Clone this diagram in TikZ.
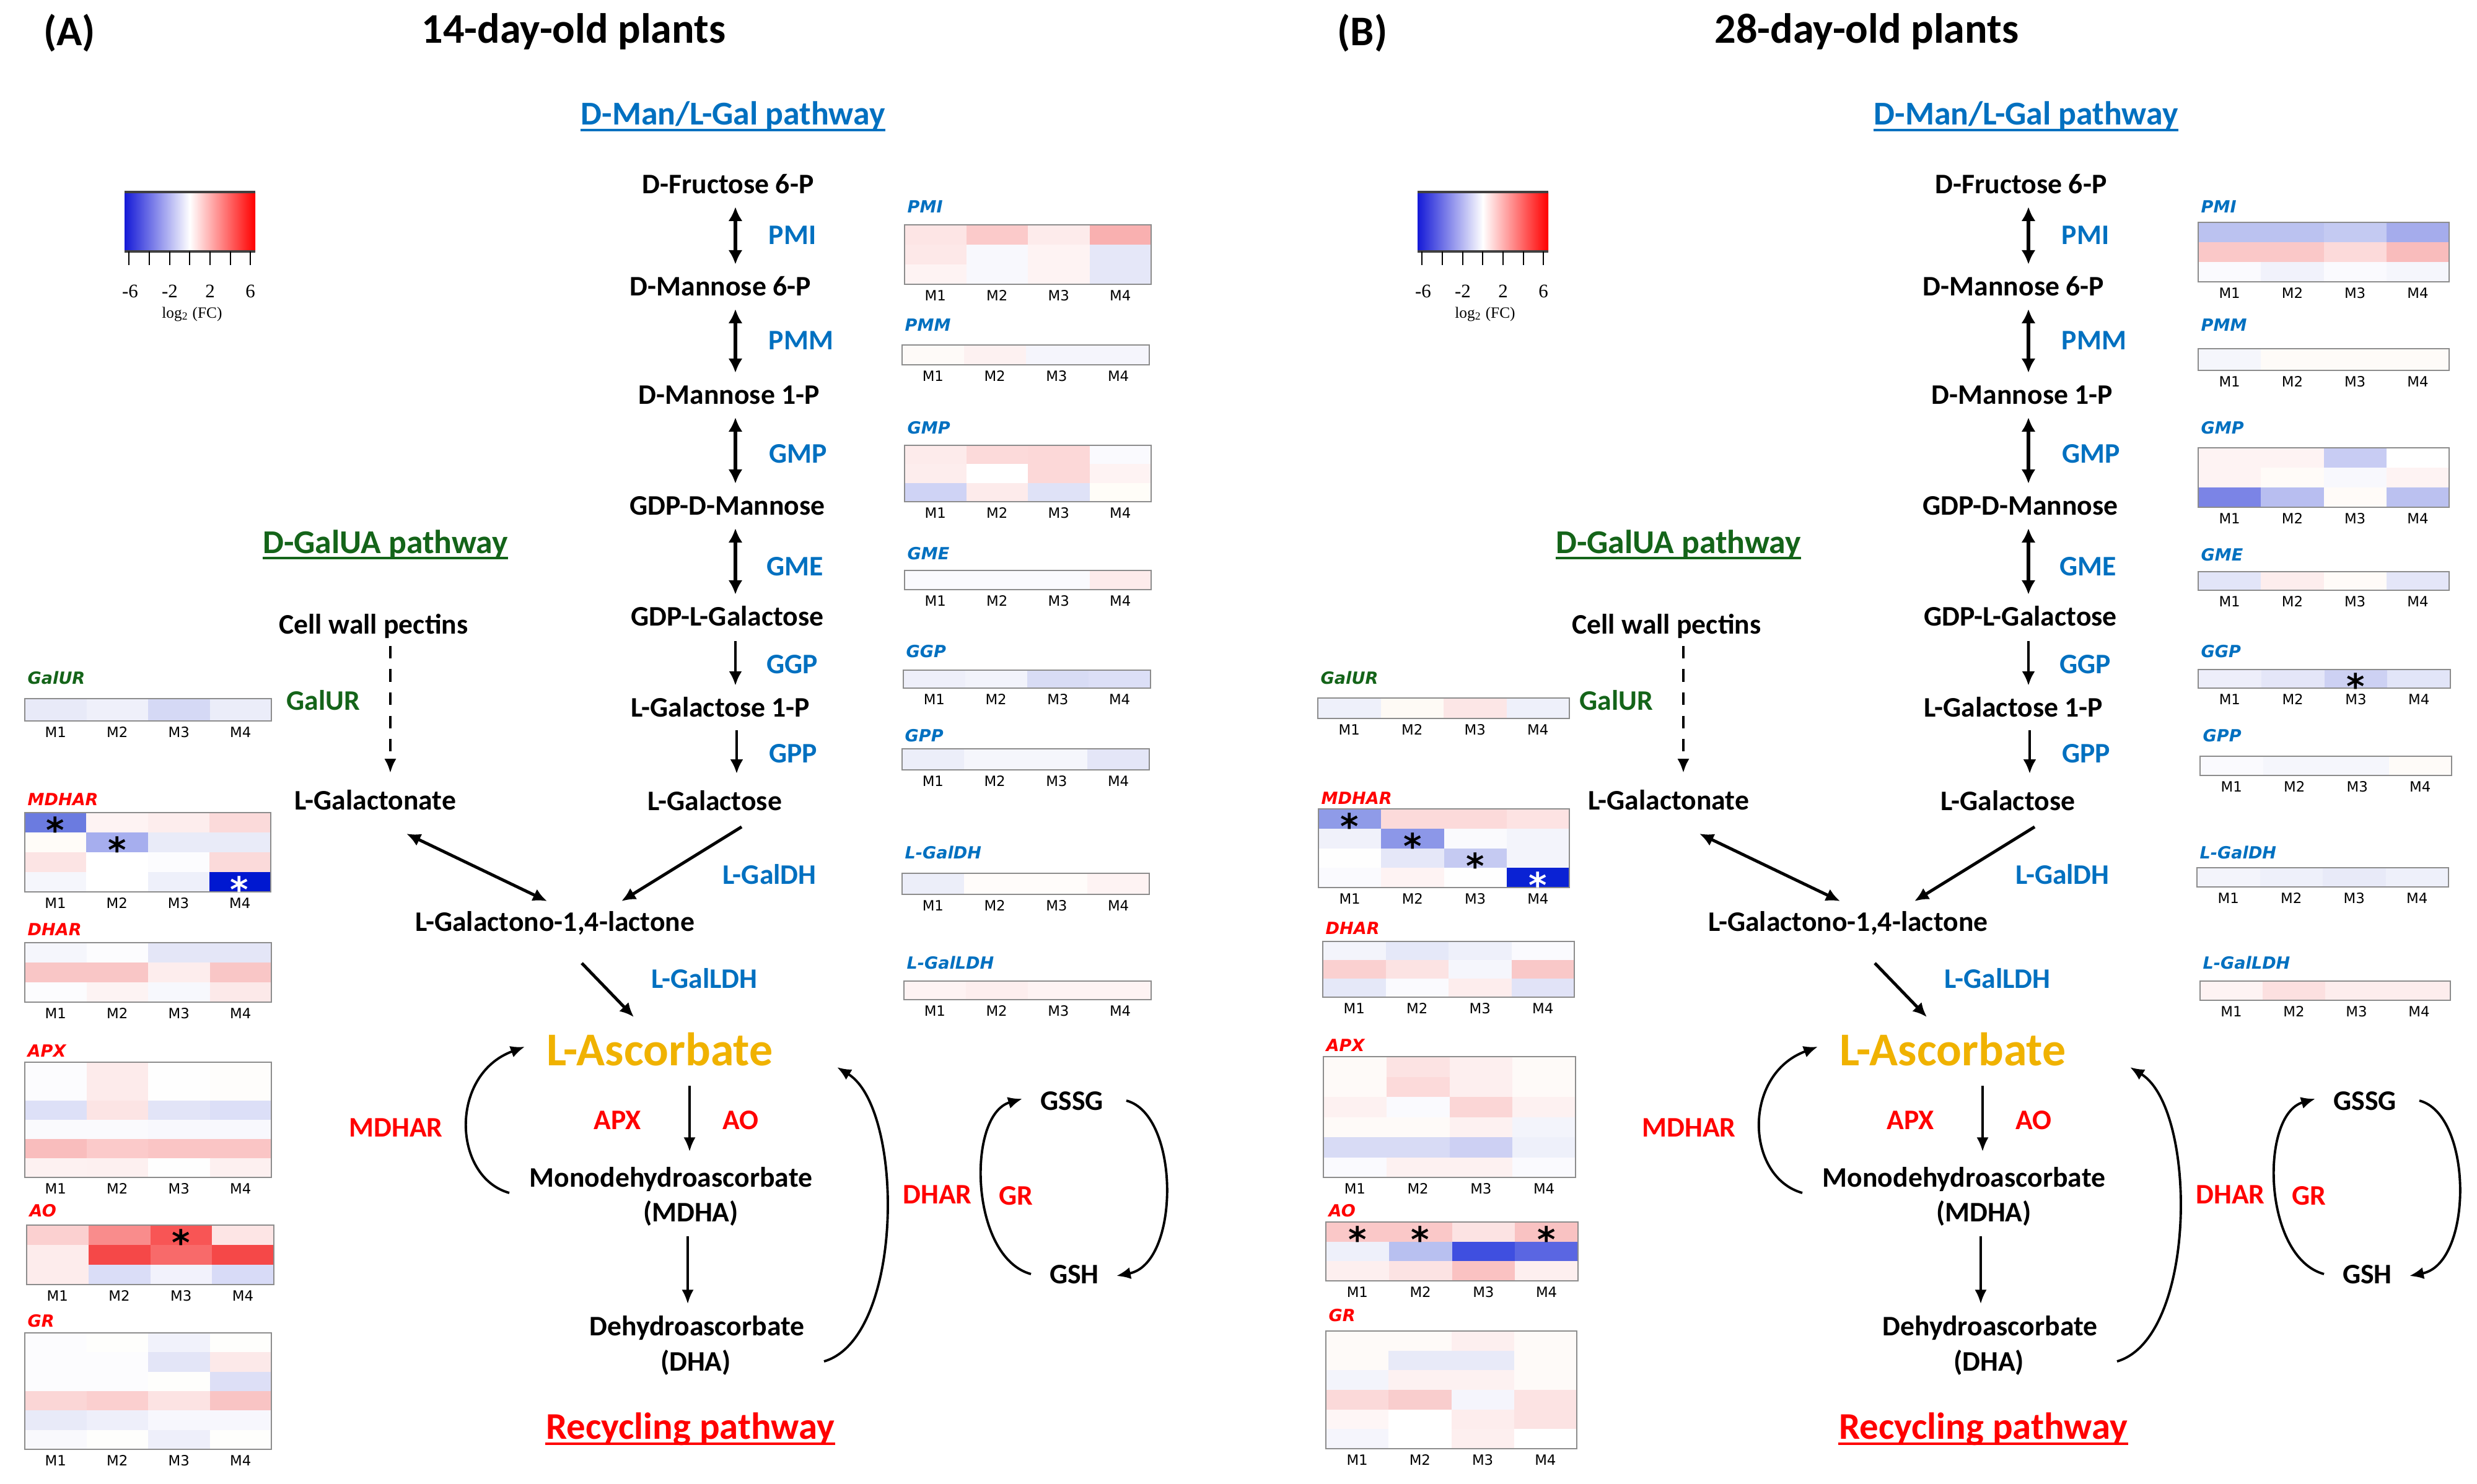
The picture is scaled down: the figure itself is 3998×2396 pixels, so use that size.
\documentclass[tikz,border=0pt]{standalone}
\usepackage{fontspec}
\setmainfont{Carlito}
\newfontfamily\dvsans{DejaVu Sans}
\newfontfamily\lserif{Liberation Serif}
\usetikzlibrary{arrows.meta,calc}
\definecolor{blueT}{RGB}{0,112,192}
\definecolor{greenT}{RGB}{20,100,25}
\definecolor{redT}{RGB}{255,0,0}
\definecolor{goldT}{RGB}{240,178,0}
\definecolor{hmborder}{RGB}{140,140,140}
\definecolor{cbBlue}{RGB}{20,25,215}
\definecolor{cbRed}{RGB}{255,0,0}
\tikzset{
 met/.style={font=\bfseries\fontsize{13}{16}\selectfont, inner sep=0pt, text height=8.6pt, text depth=0pt},
 enzB/.style={met, text=blueT},
 enzR/.style={met, text=redT},
 enzG/.style={met, text=greenT},
 hdg/.style={font=\bfseries\fontsize{15.3}{18}\selectfont, inner sep=0pt, text height=10pt, text depth=0pt},
 hdgR/.style={font=\bfseries\fontsize{17.3}{20}\selectfont, inner sep=0pt, text height=11.4pt, text depth=0pt, text=redT},
 ttl/.style={font=\bfseries\fontsize{19.4}{22}\selectfont, inner sep=0pt, text height=12.7pt, text depth=0pt},
 ascs/.style={font=\bfseries\fontsize{21.6}{24}\selectfont, inner sep=0pt, text height=14.2pt, text depth=0pt, text=goldT},
 ulin/.style={line width=1.2pt},
 dbl/.style={line width=1.7pt, {Latex[length=6.5pt,width=6.5pt]}-{Latex[length=6.5pt,width=6.5pt]}},
 sgl/.style={line width=1.2pt, -{Latex[length=6.5pt,width=6pt]}},
 diag/.style={line width=1.4pt, -{Latex[length=6.5pt,width=6pt]}},
 diagd/.style={line width=1.4pt, {Latex[length=6.5pt,width=6pt]}-{Latex[length=6.5pt,width=6pt]}},
 thin/.style={line width=1.0pt, -{Latex[length=6.5pt,width=5.5pt]}},
 crv/.style={line width=1.1pt, -{Latex[length=6.5pt,width=5.5pt]}},
 dsh/.style={line width=1.4pt, dash pattern=on 5.7pt off 5pt, -{Latex[length=6.5pt,width=5.5pt]}},
 cbl/.style={font=\lserif\fontsize{8.8}{10}\selectfont, inner sep=0pt, text height=6pt, text depth=0pt},
 cbl2/.style={font=\lserif\fontsize{7.2}{9}\selectfont, inner sep=0pt},
 hml/.style={font=\dvsans\bfseries\itshape\fontsize{7.7}{9}\selectfont, inner sep=0pt, anchor=west, text height=5.6pt, text depth=0pt},
 mlab/.style={font=\dvsans\fontsize{6.5}{8}\selectfont, inner sep=0pt, text height=4.7pt, text depth=0pt},
 hmframe/.style={draw=hmborder, line width=0.8pt},
 astk/.style={font=\dvsans\bfseries\fontsize{16}{16}\selectfont, inner sep=0pt},
}
\newcommand\astglyph{\raisebox{-0.40em}[0.36em][0pt]{*}}
\newcommand\hmap[9]{%
 \pgfmathsetmacro\hmcw{(#5-#3)/4}%
 \pgfmathsetmacro\hmch{(#6-#4)/#7}%
 \foreach \hc [count=\hi from 0] in {#9}{%
   \pgfmathtruncatemacro\hrow{int(\hi/4)}%
   \pgfmathtruncatemacro\hcol{mod(\hi,4)}%
   \edef\hmtmp{\noexpand\definecolor{hmc}{HTML}{\hc}}\hmtmp
   \fill[hmc] ({#3+\hcol*\hmcw},{#4+\hrow*\hmch}) rectangle ({#3+(\hcol+1)*\hmcw},{#4+(\hrow+1)*\hmch});
 }%
 \draw[hmframe] (#3,#4) rectangle (#5,#6);
 \node[hml] (#1-lab) at ({#3+4},#8) {#2};
 \foreach \m in {1,2,3,4}{\node[mlab] (#1-m\m) at ({#3+(\m-0.5)*\hmcw},{#6+18}) {M\m};}
}
\newcommand\pathwaybody{%
 % colour bar
 \shade[left color=cbBlue,right color=cbRed,middle color=white] (201,310) rectangle (412,406);
 \draw[line width=0.9pt, black!75] (201,310) -- (412,310);
 \draw[line width=0.9pt, black!75] (201,406) -- (412,406);
 \foreach \tx in {208,241,274,306,339,372,404} \draw[line width=0.6pt] (\tx,406) -- (\tx,428);
 \node[cbl] (cb1) at (210,470) {-6};
 \node[cbl] (cb2) at (274,470) {-2};
 \node[cbl] (cb3) at (339,470) {2};
 \node[cbl] (cb4) at (404,470) {6};
 \node[cbl2] (cbt) at (310,507) {log\textsubscript{2} (FC)};
 % D-Man/L-Gal pathway
 \coordinate (ax) at (1187,0);
 \coordinate (ax2) at (1189,0);
 \node[hdg, text=blueT] (dman) at (1183,184) {D-Man/L-Gal pathway};
 \draw[ulin, blueT] ([yshift=-2.4pt]dman.base west) -- ([yshift=-2.4pt]dman.base east);
 \node[met] (fru) at (1175,297) {D-Fructose 6-P};
 \node[enzB] (pmi) at (1279,379) {PMI};
 \node[met] (man6) at (1163,462) {D-Mannose 6-P};
 \node[enzB] (pmm) at (1293,549) {PMM};
 \node[met] (man1) at (1177,637) {D-Mannose 1-P};
 \node[enzB] (gmp) at (1288,732) {GMP};
 \node[met] (gdpman) at (1174,816) {GDP-D-Mannose};
 \node[enzB] (gme) at (1283,914) {GME};
 \node[met] (gdpgal) at (1174,995) {GDP-L-Galactose};
 \node[enzB] (ggp) at (1279,1072) {GGP};
 \node[met] (gal1p) at (1163,1142) {L-Galactose 1-P};
 \node[enzB] (gpp) at (1280,1216) {GPP};
 \node[met] (gal) at (1154,1293) {L-Galactose};
 \node[enzB] (galdh) at (1242,1412) {L-GalDH};
 \node[met] (lac) at (896,1488) {L-Galactono-1,4-lactone};
 \node[enzB] (galldh) at (1137,1580) {L-GalLDH};
 \node[ascs] (asc) at (1065,1696) {L-Ascorbate};
 \draw[dbl, shorten <=6pt, shorten >=5.5pt] (fru.south -| ax) -- (man6.north -| ax);
 \draw[dbl, shorten <=6pt, shorten >=5.5pt] (man6.south -| ax) -- (man1.north -| ax);
 \draw[dbl, shorten <=6pt, shorten >=5.5pt] (man1.south -| ax) -- (gdpman.north -| ax);
 \draw[dbl, shorten <=6pt, shorten >=5.5pt] (gdpman.south -| ax) -- (gdpgal.north -| ax);
 \draw[sgl, shorten <=7pt, shorten >=5.5pt] (gdpgal.south -| ax) -- (gal1p.north -| ax);
 \draw[sgl, shorten <=6pt, shorten >=8pt] (gal1p.south -| ax2) -- (gal.north -| ax2);
 \draw[diag] ($(gal.center)+(43,42)$) -- ($(lac.center)+(107,-33)$);
 \draw[diag] ($(lac.center)+(43,67)$) -- ($(asc.center)+(-42,-54)$);
 % D-GalUA pathway
 \coordinate (dx) at (630,0);
 \node[hdg, text=greenT] (galua) at (622,876) {D-GalUA pathway};
 \draw[ulin, greenT] ([yshift=-2.2pt]galua.base west) -- ([yshift=-2.2pt]galua.base east);
 \node[met] (pectin) at (603,1008) {Cell wall pectins};
 \node[enzG] (galur) at (522,1131) {GalUR};
 \node[met] (galn) at (606,1292) {L-Galactonate};
 \draw[dsh, shorten <=5.4pt, shorten >=8pt] (pectin.south -| dx) -- (galn.north -| dx);
 \draw[diagd] ($(galn.center)+(50,54)$) -- ($(lac.center)+(-13,-33)$);
 % Recycling pathway
 \coordinate (rx) at (1113,0);
 \coordinate (rx2) at (1110,0);
 \node[enzR] (apx) at (997,1808) {APX};
 \node[enzR] (ao) at (1195,1808) {AO};
 \node[met] (mdha) at (1083,1901) {Monodehydroascorbate};
 \node[met] (mdhab) at (1115,1957) {(MDHA)};
 \node[met] (dha) at (1125,2141) {Dehydroascorbate};
 \node[met] (dhab) at (1123,2198) {(DHA)};
 \node[enzR] (mdhar) at (639,1820) {MDHAR};
 \node[enzR] (dhar) at (1513,1928) {DHAR};
 \node[enzR] (gr) at (1640,1930) {GR};
 \node[met] (gssg) at (1730,1777) {GSSG};
 \node[met] (gsh) at (1734,2057) {GSH};
 \node[hdgR] (recyc) at (1114,2303) {Recycling pathway};
 \draw[ulin, redT] ([yshift=-2.2pt]recyc.base west) -- ([yshift=-2.2pt]recyc.base east);
 \draw[thin, shorten <=9pt, shorten >=7.4pt] (asc.south -| rx) -- (mdha.north -| rx);
 \draw[thin, shorten <=6.5pt, shorten >=5.7pt] (mdhab.south -| rx2) -- (dha.north -| rx2);
 \coordinate (mdharS) at (822,1926);
 \coordinate (mdharE) at (847,1690);
 \draw[crv] (mdharS) .. controls (730,1900) and (725,1735) .. (mdharE);
 \coordinate (dharS) at (1330,2198);
 \coordinate (dharE) at (1351,1723);
 \draw[crv] (dharS) .. controls (1460,2160) and (1460,1790) .. (dharE);
 \coordinate (grS) at (1664,2057);
 \coordinate (grE) at (1650,1774);
 \draw[crv] (grS) .. controls (1565,2030) and (1560,1800) .. (grE);
 \coordinate (gsS) at (1818,1777);
 \coordinate (gsE) at (1802,2060);
 \draw[crv] (gsS) .. controls (1905,1800) and (1905,2040) .. (gsE);
}
\begin{document}
\begin{tikzpicture}[x=0.01cm, y=-0.01cm]
\useasboundingbox (0,0) rectangle (3998,2396);
\fill[white] (0,0) rectangle (3998,2396);
% ---------- Panel A ----------
\node[ttl] (labA) at (112,51) {(A)};
\node[ttl] (titA) at (926,47) {14-day-old plants};
\begin{scope}[name prefix=A-]
\pathwaybody
\end{scope}
\hmap{hA-galur}{\textcolor{greenT}{GalUR}}{40}{1128}{438}{1164}{1}{1095}{E8EAF8,EFF0FA,D5D9F5,EBEDF9}
\hmap{hA-mdhar}{\textcolor{redT}{MDHAR}}{40}{1312}{437}{1440}{4}{1291}{6B7BE0,FEF3F3,FDEDED,FBDADA,
FFFCF8,A6AEEE,E9EBF8,E9EBF8,
FCE4E4,FFFFFF,FCFCFE,FBDADA,
F5F6FC,FFFFFF,EEF0FA,0018D0}
\hmap{hA-dhar}{\textcolor{redT}{DHAR}}{40}{1522}{438}{1618}{3}{1501}{F5F6FC,FCFCFE,E4E6F7,E4E6F7,
F9C6C6,F9C6C6,FDEDED,F9C6C6,
FCFCFE,FDF3F3,F7F8FD,FCE9E9}
\hmap{hA-apx}{\textcolor{redT}{APX}}{40}{1715}{438}{1901}{6}{1697}{FCFCFE,FDEBEB,FEFEFE,FEFDFB,
FCFCFE,FDEBEB,FEFEFE,FEFDFB,
DDE0F7,FCE4E4,E2E4F7,DCDFF7,
FAFAFD,FAFAFD,F8F8FD,F8F8FD,
F9BDBD,FBCACA,FAC5C5,FAC5C5,
FDF1F1,FDF0F0,FEFEFE,FDF0F0}
\hmap{hA-ao}{\textcolor{redT}{AO}}{43}{1978}{442}{2074}{3}{1955}{FBD0D0,F98C8C,F85555,FDE5E5,
FDECEC,F54848,F86A6A,F54848,
FDECEC,DADDF7,F2F2FC,D8DBF7}
\hmap{hA-gr}{\textcolor{redT}{GR}}{40}{2152}{438}{2340}{6}{2133}{FCFCFE,FEFEFC,F1F2FB,FEFEFC,
FCFCFE,FCFCFE,E3E5F7,FCE9E9,
FCFCFE,FCFCFE,FEFEFC,DDDFF6,
FBD6D6,FBCFCF,FCE3E3,F9C4C4,
E8EAF8,EEEFFA,F7F7FD,F7F7FD,
F9F9FD,FEFEFC,EEEFFA,FEFEFC}
\hmap{hA-pmi}{\textcolor{blueT}{PMI}}{1460}{363}{1858}{459}{3}{334}{FDE5E5,FBCACA,FDEBEB,F9B0B0,
FDE8E8,F8F8FD,FEF3F3,E5E7F8,
FEF3F3,F8F8FD,FEF3F3,E5E7F8}
\hmap{hA-pmm}{\textcolor{blueT}{PMM}}{1456}{557}{1855}{589}{1}{525}{FEFAF8,FDF1F1,F5F5FC,F5F5FC}
\hmap{hA-gmp}{\textcolor{blueT}{GMP}}{1460}{719}{1858}{810}{3}{691}{FDEBEB,FCDADA,FCD8D8,FAFAFE,
FDEDED,FFFFFF,FCD8D8,FEF3F3,
CFD3F5,FDEBEB,DFE2F7,FFFDF8}
\hmap{hA-gme}{\textcolor{blueT}{GME}}{1460}{921}{1858}{952}{1}{894}{FAFAFE,FAFAFE,FAFAFE,FDEBEB}
\hmap{hA-ggp}{\textcolor{blueT}{GGP}}{1458}{1082}{1857}{1111}{1}{1052}{EEEFFA,F2F3FB,D8DCF5,DCDFF7}
\hmap{hA-gpp}{\textcolor{blueT}{GPP}}{1456}{1209}{1855}{1243}{1}{1188}{ECEEF9,F5F6FC,F5F6FC,E4E6F7}
\hmap{hA-galdh}{\textcolor{blueT}{L-GalDH}}{1456}{1410}{1855}{1444}{1}{1377}{ECEEF9,FFFCFA,FFFCFA,FEF3F3}
\hmap{hA-galldh}{\textcolor{blueT}{L-GalLDH}}{1459}{1584}{1858}{1614}{1}{1555}{FEF3F3,FDEEEE,FEF3F3,FEF3F3}
\node[astk] (astA1) at (89.6,1328) {\astglyph};
\node[astk] (astA2) at (188.9,1360) {\astglyph};
\node[astk, text=white] (astA3) at (386.4,1424) {\astglyph};
\node[astk] (astA4) at (292.4,1994) {\astglyph};
% ---------- Panel B ----------
\node[ttl] (labB) at (2199,51) {(B)};
\node[ttl] (titB) at (3013,47) {28-day-old plants};
\begin{scope}[shift={(2087,0)}, name prefix=B-]
\pathwaybody
\end{scope}
\hmap{hB-galur}{\textcolor{greenT}{GalUR}}{2127}{1127}{2533}{1160}{1}{1095}{EEF0FA,FEFAF5,FCE6E6,EEF0FA}
\hmap{hB-mdhar}{\textcolor{redT}{MDHAR}}{2128}{1306}{2533}{1433}{4}{1289}{8F9BE8,FCDADA,FCDADA,FDE3E3,
F0F1FA,8C97E8,FAFAFD,F3F4FB,
FEFEFE,E5E7F8,C5CAF2,F3F4FB,
FAFAFE,FEF3F3,FEFEFE,0A22D4}
\hmap{hB-dhar}{\textcolor{redT}{DHAR}}{2135}{1520}{2541}{1610}{3}{1499}{F3F4FB,E5E8F8,EEF0FA,FAFAFE,
FAD0D0,FCE3E3,F5F6FC,F9C8C8,
E5E8F8,FAFAFE,FDEDED,E1E3F7}
\hmap{hB-apx}{\textcolor{redT}{APX}}{2136}{1706}{2543}{1901}{6}{1688}{FEFAF8,FCE3E3,FDEFEF,FEFAF8,
FEFAF8,FCDADA,FDEFEF,FEFAF8,
FDF1F1,FAFAFE,FBD6D6,FDF1F1,
FEFAF8,FEFAF8,FDF1F1,F3F4FB,
D8DBF5,D8DBF5,CDD0F3,EEF0FA,
FAFAFE,FDF1F1,FDF1F1,FAFAFE}
\hmap{hB-ao}{\textcolor{redT}{AO}}{2140}{1973}{2547}{2068}{3}{1955}{FAC8C8,FAC8C8,FCE3E3,F9C2C2,
EEF0FA,B8C0F0,3F4FE0,5A66E2,
FDEFEF,FCE3E3,FAC2C2,FDEFEF}
\hmap{hB-gr}{\textcolor{redT}{GR}}{2140}{2149}{2545}{2339}{6}{2124}{FEFAF8,FEFAF8,FDEFEF,FEFAF8,
FEFAF8,E8EAF8,E8EAF8,FEFAF8,
F3F4FB,FDF1F1,FDF1F1,FEFAF8,
FBD9D9,F9CDCD,F5F5FC,FCE3E3,
FEF6F6,FFFFFF,FDEDED,FCE3E3,
F5F5FC,FFFFFF,FDEFEF,FFFFFF}
\hmap{hB-pmi}{\textcolor{blueT}{PMI}}{3548}{359}{3953}{455}{3}{334}{BBC2F0,BBC2F0,C4CAF2,A5ACEC,
FAC8C8,FAC8C8,FCDADA,F9BCBC,
FAFAFE,F1F2FB,FAFAFE,F5F6FC}
\hmap{hB-pmm}{\textcolor{blueT}{PMM}}{3548}{563}{3953}{598}{1}{525}{F5F6FC,FEFBF8,FEFBF8,FEFBF8}
\hmap{hB-gmp}{\textcolor{blueT}{GMP}}{3548}{723}{3953}{819}{3}{691}{FEF3F3,FEF3F3,C8CCF3,FFFFFF,
FEF3F3,FFFBF8,F8F8FD,FEF3F3,
7B84E6,B8BEF0,FFFBF8,BBC1F0}
\hmap{hB-gme}{\textcolor{blueT}{GME}}{3548}{923}{3953}{953}{1}{896}{E2E5F8,FDEDED,FFFBF8,E4E6F8}
\hmap{hB-ggp}{\textcolor{blueT}{GGP}}{3548}{1081}{3955}{1111}{1}{1052}{EDEEFA,E4E6F8,CDD1F3,E2E5F8}
\hmap{hB-gpp}{\textcolor{blueT}{GPP}}{3551}{1221}{3957}{1252}{1}{1188}{FAFAFE,F5F6FC,F5F6FC,FEFBF8}
\hmap{hB-galdh}{\textcolor{blueT}{L-GalDH}}{3546}{1401}{3952}{1432}{1}{1377}{F3F4FB,EEF0FA,E8EAF8,EEF0FA}
\hmap{hB-galldh}{\textcolor{blueT}{L-GalLDH}}{3551}{1584}{3955}{1615}{1}{1555}{FEF3F3,FCE0E0,FDEDED,FDEDED}
\node[astk] (astB1) at (2178.6,1321.9) {\astglyph};
\node[astk] (astB2) at (2279.9,1353.6) {\astglyph};
\node[astk] (astB3) at (2381.1,1385.4) {\astglyph};
\node[astk, text=white] (astB4) at (2482.4,1417.1) {\astglyph};
\node[astk] (astB5) at (2190.9,1988.8) {\astglyph};
\node[astk] (astB6) at (2292.6,1988.8) {\astglyph};
\node[astk] (astB7) at (2496.1,1988.8) {\astglyph};
\node[astk] (astB8) at (3802,1096) {\astglyph};
\end{tikzpicture}
\end{document}
